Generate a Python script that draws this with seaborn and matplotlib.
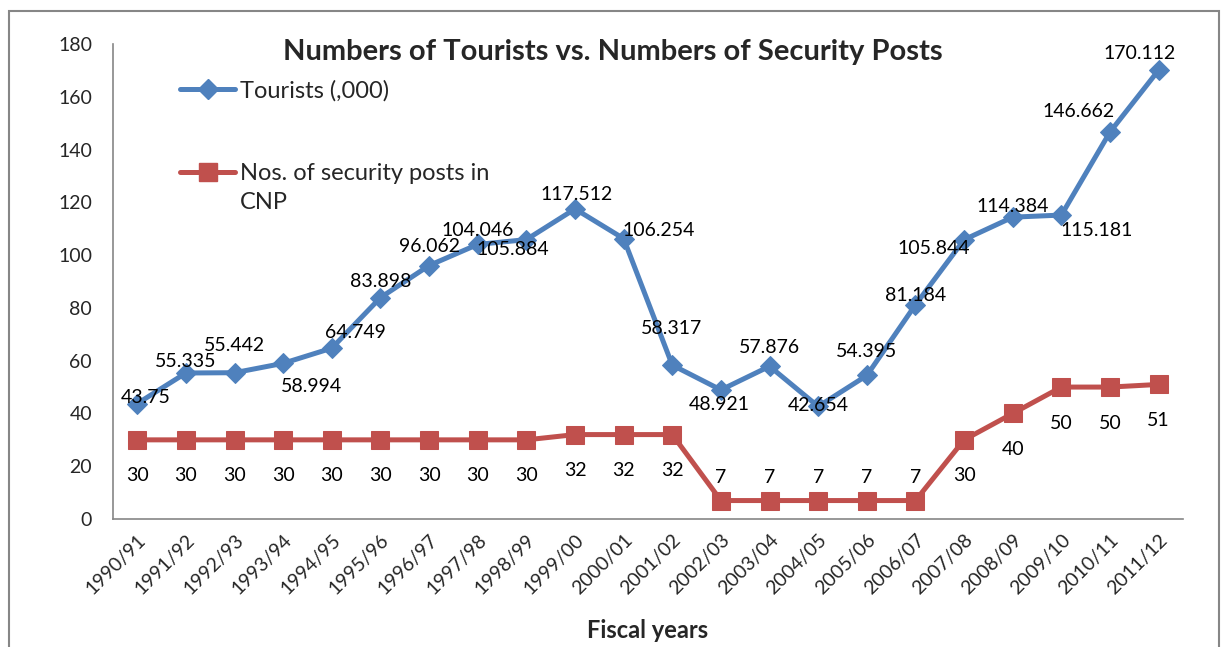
import matplotlib
matplotlib.use("Agg")
import matplotlib.pyplot as plt
import matplotlib.patches as mpatches
from matplotlib.lines import Line2D
import seaborn as sns
import pandas as pd

# Fiscal years and series values
years = ["1990/91", "1991/92", "1992/93", "1993/94", "1994/95", "1995/96",
         "1996/97", "1997/98", "1998/99", "1999/00", "2000/01", "2001/02",
         "2002/03", "2003/04", "2004/05", "2005/06", "2006/07", "2007/08",
         "2008/09", "2009/10", "2010/11", "2011/12"]
tourists = [43.75, 55.335, 55.442, 58.994, 64.749, 83.898, 96.062, 104.046,
            105.884, 117.512, 106.254, 58.317, 48.921, 57.876, 42.654, 54.395,
            81.184, 105.844, 114.384, 115.181, 146.662, 170.112]
tourist_labels = ["43.75", "55.335", "55.442", "58.994", "64.749", "83.898",
                  "96.062", "104.046", "105.884", "117.512", "106.254", "58.317",
                  "48.921", "57.876", "42.654", "54.395", "81.184", "105.844",
                  "114.384", "115.181", "146.662", "170.112"]
posts = [30, 30, 30, 30, 30, 30, 30, 30, 30, 32, 32, 32,
         7, 7, 7, 7, 7, 30, 40, 50, 50, 51]

yticks = [0, 20, 40, 60, 80, 100, 120, 140, 160, 180]

title = "Numbers of Tourists vs. Numbers of Security Posts"
xlabel = "Fiscal years"
name_tourists = "Tourists (,000)"
name_posts = ["Nos. of security posts in", "CNP"]

BLUE = "#4F81BD"
RED = "#C0504D"
AXIS_GREY = "#868686"

sns.set_style("white")
plt.rcParams["font.family"] = ["Lato", "DejaVu Sans"]

FS = 14
fig = plt.figure(figsize=(12.25, 6.47), dpi=100)
ax = fig.add_axes([0.0922, 0.1978, 0.8735, 0.7342])

df = pd.DataFrame({"year": years, "tourists": tourists, "posts": posts})
df["pos"] = range(len(df))

sns.lineplot(data=df, x="pos", y="tourists", ax=ax, color=BLUE, linewidth=3.6,
             marker="D", markersize=10.5, markeredgecolor=BLUE, sort=False,
             zorder=3)
sns.lineplot(data=df, x="pos", y="posts", ax=ax, color=RED, linewidth=3.6,
             marker="s", markersize=12.5, markeredgecolor=RED, sort=False,
             zorder=3)

# label offsets (pixels) for each point
t_off = [(8, 6), (0, 11), (0, 27), (28, -23), (24, 16), (0, 16), (0, 19),
         (0, 14), (-14, -10), (2, 14), (35, 8), (-1, 37), (-2, -15), (0, 19),
         (0, 1), (0, 24), (0, 9), (-30, -9), (0, 11), (35, -15), (-31, 20),
         (-19, 17)]
for i, (v, lab) in enumerate(zip(tourists, tourist_labels)):
    ax.annotate(lab, (i, v), xytext=t_off[i], textcoords="offset pixels",
                ha="center", va="center", fontsize=FS, color="black",
                zorder=5)
for i, v in enumerate(posts):
    dy = 23 if v < 10 else -36
    ax.annotate(str(v), (i, v), xytext=(0, dy), textcoords="offset pixels",
                ha="center", va="center", fontsize=FS, color="black",
                zorder=5)

ax.set_xlim(-0.5, len(years) - 0.5)
ax.set_ylim(0, 180)
ax.set_yticks(yticks)
ax.set_yticklabels([str(t) for t in yticks], fontsize=FS)
ax.set_xticks(range(len(years)))
ax.set_xticklabels(years, rotation=45, ha="right", rotation_mode="anchor",
                   fontsize=FS)
ax.set_xlabel(xlabel, fontsize=17, fontweight="bold", labelpad=15)
ax.set_ylabel("")

for side in ["top", "right"]:
    ax.spines[side].set_visible(False)
for side in ["left", "bottom"]:
    ax.spines[side].set_color(AXIS_GREY)
    ax.spines[side].set_linewidth(1.2)
ax.tick_params(axis="both", which="major", direction="out", length=5,
               width=1.2, color=AXIS_GREY)
ax.tick_params(axis="x", pad=4)
ax.tick_params(axis="y", pad=10)

fig.text(0.5005, 0.919, title, ha="center", va="center", fontsize=21,
         fontweight="bold")

handles = [
    Line2D([], [], color=BLUE, linewidth=3.6, marker="D", markersize=10.5),
    Line2D([], [], color=RED, linewidth=3.6, marker="s", markersize=12.5),
]
leg = ax.legend(handles, [name_tourists, name_posts[0]], loc="upper left",
                bbox_to_anchor=(0.0626, 0.924), frameon=False, fontsize=17,
                handlelength=2.35, handletextpad=0.2, labelspacing=2.62,
                borderaxespad=0, borderpad=0)

# continuation line of the second legend label
fig.canvas.draw()
bb = leg.get_texts()[1].get_window_extent()
fig.text(bb.x0, bb.y0 - 8, name_posts[1], ha="left", va="top",
         fontsize=17, transform=None)

# outer chart border
fig.patches.append(mpatches.Rectangle((0.0073, -0.02), 0.9878, 1.003,
                                      transform=fig.transFigure,
                                      fill=False, edgecolor=AXIS_GREY,
                                      linewidth=1.5, zorder=0))

fig.savefig("out.png", dpi=100, facecolor="white")
